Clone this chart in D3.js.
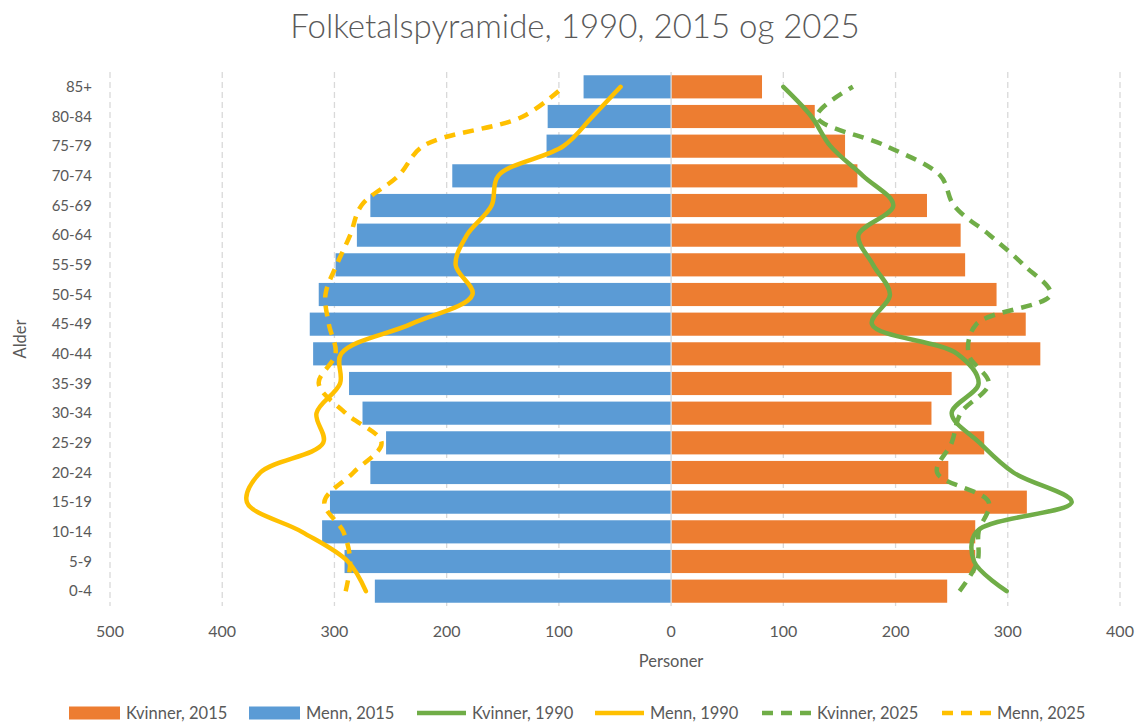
<!DOCTYPE html>
<html>
<head>
<meta charset="utf-8">
<script src="https://cdn.jsdelivr.net/npm/d3@7"></script>
<style>
  body { margin: 0; background: #fff; }
  svg { font-family: Lato, "Open Sans", sans-serif; }
</style>
</head>
<body>
<svg id="chart" width="1139" height="722"></svg>
<script>
// Age groups, bottom to top
var ages = ["0-4", "5-9", "10-14", "15-19", "20-24", "25-29", "30-34", "35-39", "40-44",
  "45-49", "50-54", "55-59", "60-64", "65-69", "70-74", "75-79", "80-84", "85+"];

// bars (2015)
var menn2015 = [264, 291, 311, 304, 268, 254, 275, 287, 319, 322, 314, 299, 280, 268, 195, 111, 110, 78];
var kvinner2015 = [246, 271, 271, 317, 247, 279, 232, 250, 329, 316, 290, 262, 258, 228, 166, 155, 128, 81];

// lines (1990 solid, 2025 dashed)
var menn1990 = [272, 288, 329, 378, 366, 310, 316, 295, 294, 232, 177, 192, 182, 160, 154, 96, 70, 45];
var kvinner1990 = [299, 270, 272, 357, 305, 275, 250, 274, 255, 179, 195, 180, 167, 198, 171, 142, 125, 100];
var menn2025 = [290, 286, 292, 309, 283, 258, 290, 314, 299, 305, 308, 298, 286, 276, 243, 221, 132, 96];
var kvinner2025 = [257, 273, 274, 283, 237, 250, 258, 283, 265, 272, 338, 314, 284, 252, 240, 192, 130, 162];

var xTicks = [-500, -400, -300, -200, -100, 0, 100, 200, 300, 400];

var orange = '#ED7D31', blue = '#5B9BD5', green = '#70AD47', yellow = '#FFC000';
var textColor = '#595959';

var svg = d3.select('#chart');
var plot = { left: 110, right: 1120, top: 72, bottom: 606 };

var x = d3.scaleLinear()
    .domain([-500, 400])
    .range([plot.left, plot.right]);

var y = d3.scaleBand()
    .domain(ages)
    .range([plot.bottom, plot.top])
    .paddingInner(0.22)
    .paddingOuter(0.11);

// title
svg.append('text')
    .attr('x', 575)
    .attr('y', 38)
    .attr('text-anchor', 'middle')
    .attr('font-size', 33)
    .attr('font-weight', 300)
    .attr('fill', textColor)
    .text('Folketalspyramide, 1990, 2015 og 2025');

// vertical dashed gridlines
svg.append('g')
    .selectAll('line')
    .data(xTicks.filter(function(d) { return d !== 0; }))
    .join('line')
    .attr('x1', function(d) { return x(d); })
    .attr('x2', function(d) { return x(d); })
    .attr('y1', plot.top)
    .attr('y2', plot.bottom)
    .attr('stroke', '#D9D9D9')
    .attr('stroke-width', 1.3)
    .attr('stroke-dasharray', '6 4');

// bars
svg.append('g')
    .selectAll('rect')
    .data(menn2015)
    .join('rect')
    .attr('x', function(d) { return x(-d); })
    .attr('y', function(d, i) { return y(ages[i]); })
    .attr('width', function(d) { return x(0) - x(-d); })
    .attr('height', y.bandwidth())
    .attr('fill', blue);

svg.append('g')
    .selectAll('rect')
    .data(kvinner2015)
    .join('rect')
    .attr('x', x(0))
    .attr('y', function(d, i) { return y(ages[i]); })
    .attr('width', function(d) { return x(d) - x(0); })
    .attr('height', y.bandwidth())
    .attr('fill', orange);

// zero line
svg.append('line')
    .attr('x1', x(0)).attr('x2', x(0))
    .attr('y1', plot.top).attr('y2', plot.bottom)
    .attr('stroke', '#D9D9D9')
    .attr('stroke-width', 1.3);

// smoothed lines
var line = d3.line()
    .x(function(d) { return x(d.v); })
    .y(function(d) { return y(d.age) + y.bandwidth() / 2; })
    .curve(d3.curveCatmullRom.alpha(0.5));

var series = [
  { values: menn1990, sign: -1, color: yellow, dash: null },
  { values: kvinner1990, sign: 1, color: green, dash: null },
  { values: menn2025, sign: -1, color: yellow, dash: '11 8' },
  { values: kvinner2025, sign: 1, color: green, dash: '11 8' }
];

series.forEach(function(s) {
  var pts = s.values.map(function(v, i) { return { age: ages[i], v: s.sign * v }; });
  svg.append('path')
      .datum(pts)
      .attr('d', line)
      .attr('fill', 'none')
      .attr('stroke', s.color)
      .attr('stroke-width', 4.5)
      .attr('stroke-linecap', s.dash ? 'butt' : 'round')
      .attr('stroke-linejoin', 'round')
      .attr('stroke-dasharray', s.dash);
});

// y axis labels
svg.append('g')
    .selectAll('text')
    .data(ages)
    .join('text')
    .attr('x', 92)
    .attr('y', function(d) { return y(d) + y.bandwidth() / 2; })
    .attr('dy', '0.35em')
    .attr('text-anchor', 'end')
    .attr('font-size', 15)
    .attr('fill', textColor)
    .text(function(d) { return d; });

// x axis labels
svg.append('g')
    .selectAll('text')
    .data(xTicks)
    .join('text')
    .attr('x', function(d) { return x(d); })
    .attr('y', 631)
    .attr('dy', '0.35em')
    .attr('text-anchor', 'middle')
    .attr('font-size', 16)
    .attr('fill', textColor)
    .text(function(d) { return Math.abs(d); });

// axis titles
svg.append('text')
    .attr('x', x(0))
    .attr('y', 661)
    .attr('dy', '0.35em')
    .attr('text-anchor', 'middle')
    .attr('font-size', 16.5)
    .attr('fill', textColor)
    .text('Personer');

svg.append('text')
    .attr('transform', 'translate(20,' + ((plot.top + plot.bottom) / 2) + ') rotate(-90)')
    .attr('dy', '0.35em')
    .attr('text-anchor', 'middle')
    .attr('font-size', 16.5)
    .attr('fill', textColor)
    .text('Alder');

// legend
var legendItems = [
  { label: 'Kvinner, 2015', type: 'rect', color: orange, x: 69 },
  { label: 'Menn, 2015', type: 'rect', color: blue, x: 249 },
  { label: 'Kvinner, 1990', type: 'line', color: green, x: 415 },
  { label: 'Menn, 1990', type: 'line', color: yellow, x: 593 },
  { label: 'Kvinner, 2025', type: 'dash', color: green, x: 760 },
  { label: 'Menn, 2025', type: 'dash', color: yellow, x: 940 }
];
var legendY = 713;

var lg = svg.append('g')
    .selectAll('g')
    .data(legendItems)
    .join('g')
    .attr('transform', function(d) { return 'translate(' + d.x + ',' + legendY + ')'; });

lg.filter(function(d) { return d.type === 'rect'; })
    .append('rect')
    .attr('x', 0).attr('y', -6.5)
    .attr('width', 51).attr('height', 13)
    .attr('fill', function(d) { return d.color; });

lg.filter(function(d) { return d.type !== 'rect'; })
    .append('line')
    .attr('x1', 2).attr('x2', 51)
    .attr('y1', 0).attr('y2', 0)
    .attr('stroke', function(d) { return d.color; })
    .attr('stroke-width', 4.5)
    .attr('stroke-dasharray', function(d) { return d.type === 'dash' ? '11 8' : null; });

lg.append('text')
    .attr('x', 57)
    .attr('y', 0)
    .attr('dy', '0.35em')
    .attr('font-size', 16.5)
    .attr('fill', textColor)
    .text(function(d) { return d.label; });
</script>
</body>
</html>
